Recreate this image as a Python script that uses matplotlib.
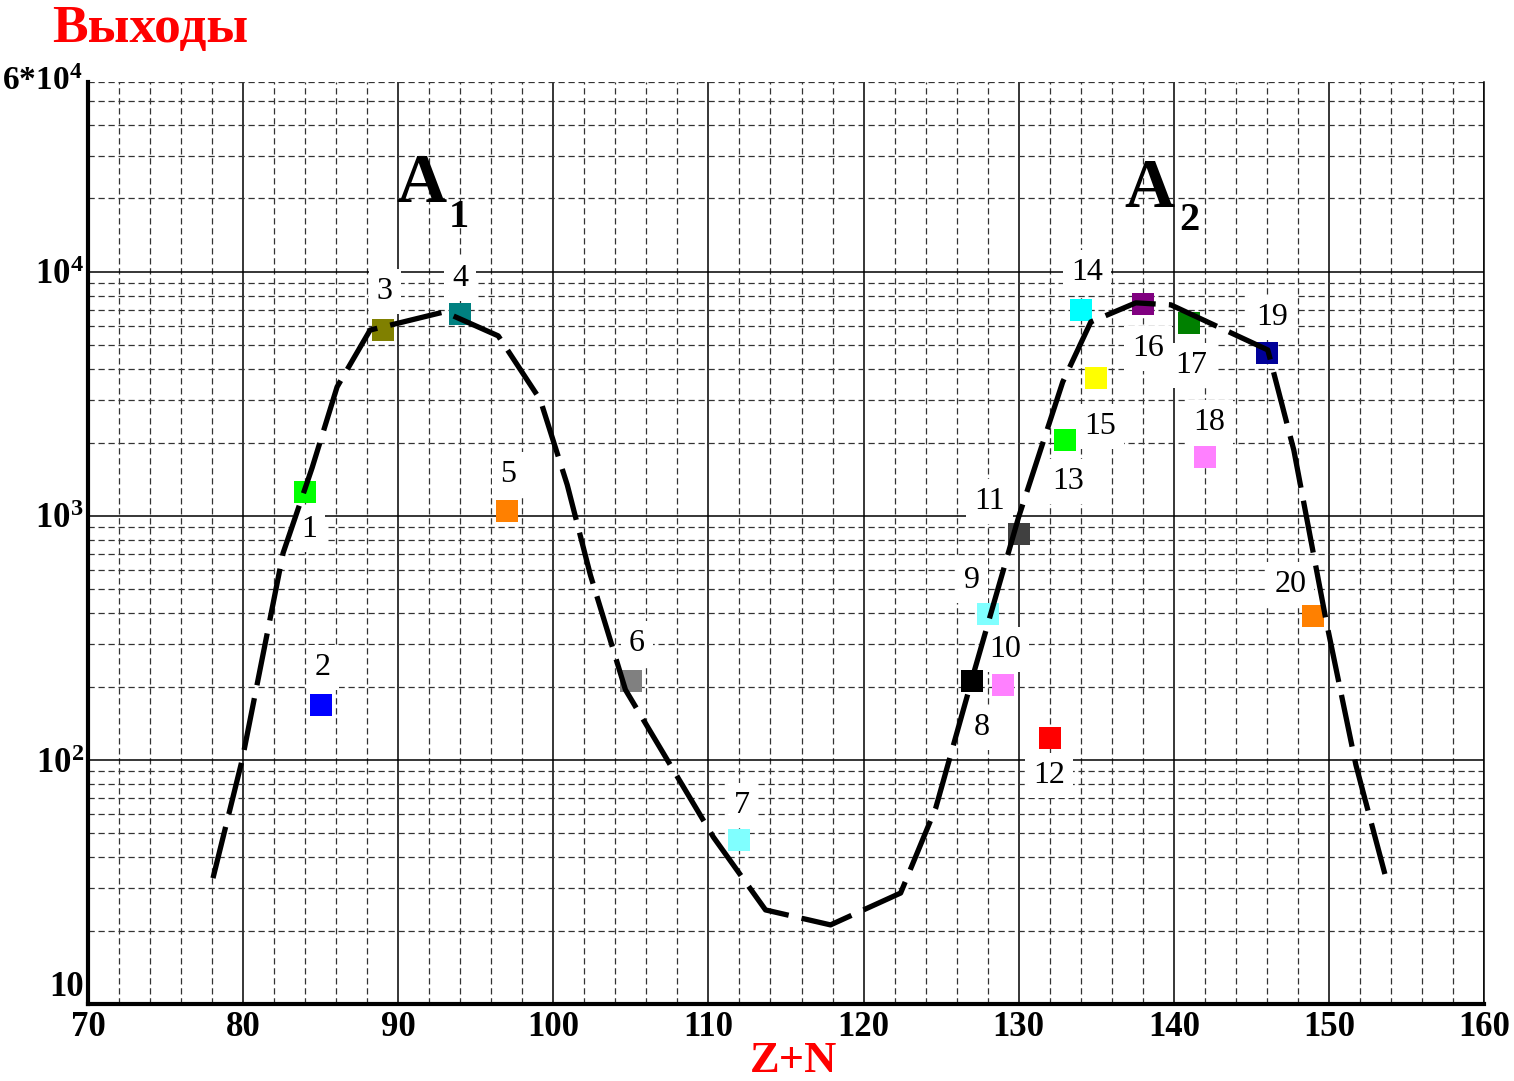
import matplotlib
matplotlib.use('Agg')
import matplotlib.pyplot as plt
from matplotlib.ticker import FixedLocator, NullFormatter

plt.rcParams['font.family'] = ['Liberation Serif', 'DejaVu Serif']
plt.rcParams['mathtext.fontset'] = 'custom'
plt.rcParams['mathtext.bf'] = 'Liberation Serif:bold'
plt.rcParams['mathtext.rm'] = 'Liberation Serif:bold'
plt.rcParams['mathtext.default'] = 'bf'

# точки (Z+N, выход)
zn = [84, 85, 89, 94, 97, 105, 112, 127, 128, 129,
      130, 132, 133, 134, 135, 138, 141, 142, 146, 149]
vyhod = [1250, 168, 5800, 6700, 1050, 211, 47, 211, 396, 203,
         844, 123, 2050, 6980, 3680, 7400, 6180, 1745, 4650, 389]
nomera = [str(i) for i in range(1, 21)]
cveta = ['#00ff00', '#0000ff', '#808000', '#008080', '#ff8000', '#808080', '#80ffff',
         '#000000', '#80ffff', '#ff80ff', '#404040', '#ff0000', '#00ff00', '#00ffff',
         '#ffff00', '#800080', '#008000', '#ff80ff', '#000099', '#ff8000']

# сглаживающая кривая
krivaya_x = [78.06, 79.94, 82.58, 84.45, 86.06, 88.19, 92.97, 96.45, 99.16, 100.9,
             102.39, 104.65, 110.32, 113.68, 117.87, 122.39, 124.65, 127.03, 130.0,
             132.84, 134.65, 137.55, 139.81, 146.06, 147.74, 149.81, 151.74, 153.61]
krivaya_y = [32.8, 100, 705, 1575, 3380, 5780, 6860, 5470, 2990, 1340,
             573, 194, 48.3, 24.3, 21.1, 28.5, 63.5, 219, 991,
             3540, 6240, 7470, 7330, 4790, 1860, 375, 95.4, 34.1]

# смещения подписей, пиксели
sdvig = [(4, -37), (2, 38), (2, 38), (0, 36), (1, 36), (6, 37), (2, 35), (10, -47),
         (-16, 34), (2, 35), (-29, 32), (-1, -37), (3, -42), (6, 38), (4, -49),
         (5, -45), (2, -43), (4, 34), (5, 36), (-23, 32)]

fig = plt.figure(figsize=(15.14, 10.81), dpi=100)
ax = fig.add_axes([0.0581, 0.0712, 0.9221, 0.8529])
ax.set_yscale('log')
ax.set_xlim(70, 160)
ax.set_ylim(10, 6e4)

ax.xaxis.set_major_locator(FixedLocator(range(70, 161, 10)))
ax.xaxis.set_minor_locator(FixedLocator([x for x in range(72, 160, 2) if x % 10]))
ax.yaxis.set_major_locator(FixedLocator([10, 100, 1000, 10000]))
minor_y = [m * d for d in (10, 100, 1000) for m in range(2, 10)] + [20000, 30000, 40000, 50000, 60000]
ax.yaxis.set_minor_locator(FixedLocator(minor_y))
ax.yaxis.set_minor_formatter(NullFormatter())

ax.grid(which='major', color='black', linestyle='-', linewidth=1.1, zorder=1)
ax.grid(which='minor', color='#333333', linestyle=(0, (5, 3)), linewidth=0.9, zorder=1)
ax.set_axisbelow(True)

ax.tick_params(which='both', length=0)
ax.tick_params(axis='x', pad=5, labelsize=25)
ax.tick_params(axis='y', pad=3, labelsize=25)
ax.set_xticklabels([str(v) for v in range(70, 161, 10)], fontweight='bold')
ylab = ax.set_yticklabels(['10', r'$10^{2}$', r'$10^{3}$', r'$10^{4}$'])
ylab[0].set_fontweight('bold')
ylab[0].set_verticalalignment('bottom')
ax.text(-0.004, 6e4, r'$6{*}10^{4}$', transform=ax.get_yaxis_transform(),
        ha='right', va='center', fontsize=24)

ax.spines['top'].set_visible(False)
ax.spines['left'].set_linewidth(3)
ax.spines['bottom'].set_linewidth(3)
ax.spines['right'].set_linewidth(1.1)

ax.plot(krivaya_x, krivaya_y, color='black', linewidth=3.8, dashes=(10, 2.5),
        solid_capstyle='butt', dash_capstyle='butt', zorder=5)

for x, y, c, n, (dx, dy) in zip(zn, vyhod, cveta, nomera, sdvig):
    ax.plot(x, y, marker='s', markersize=16, color=c, markeredgewidth=0, linestyle='none', zorder=4)
    ax.annotate(n, (x, y), xytext=(dx, dy), textcoords='offset pixels',
                ha='center', va='center', fontsize=23, zorder=3,
                bbox=dict(boxstyle='square,pad=0.25', facecolor='white', edgecolor='none'))

ax.text(91.48, 19370, 'A', fontsize=50, fontweight='bold', ha='center', va='baseline', zorder=6)
ax.text(93.94, 15290, '1', fontsize=29, fontweight='bold', ha='center', va='baseline', zorder=6)
ax.text(138.45, 18460, 'A', fontsize=50, fontweight='bold', ha='center', va='baseline', zorder=6)
ax.text(141.03, 14860, '2', fontsize=29, fontweight='bold', ha='center', va='baseline', zorder=6)

fig.text(0.0343, 0.961, 'Выходы', color='red', fontsize=38.5, fontweight='bold',
         ha='left', va='baseline')
fig.text(0.524, 0.008, 'Z+N', color='red', fontsize=32, fontweight='bold',
         ha='center', va='baseline')

fig.savefig('out.png', dpi=100, facecolor='white')
